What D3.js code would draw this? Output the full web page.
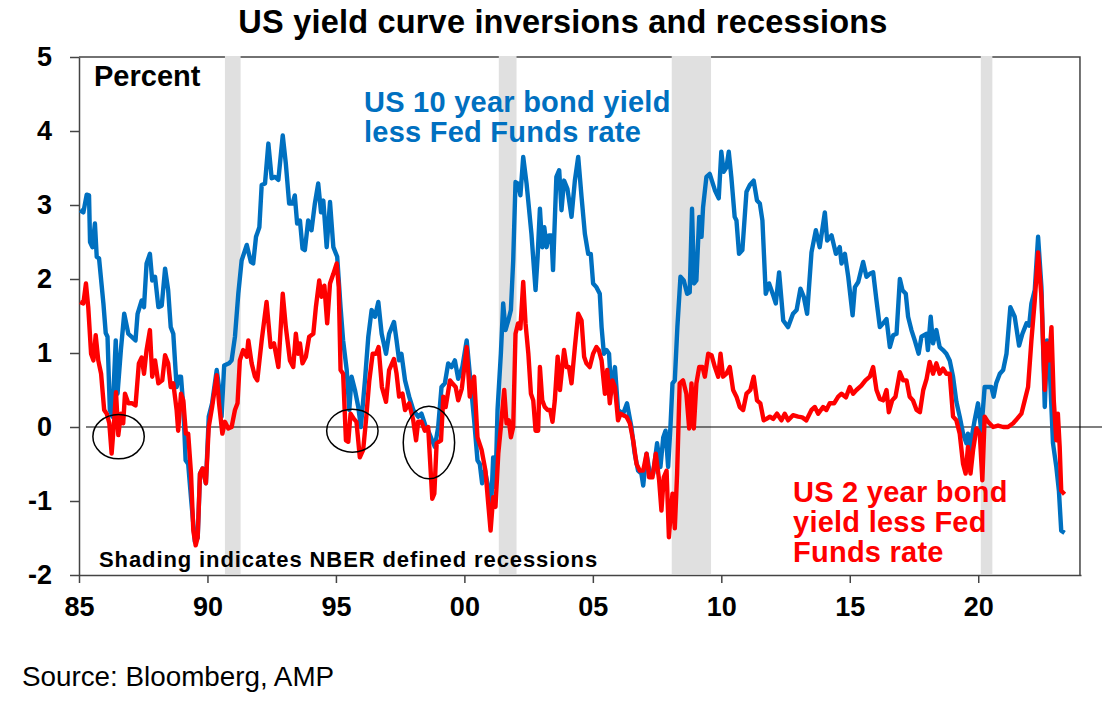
<!DOCTYPE html>
<html>
<head>
<meta charset="utf-8">
<script src="https://cdn.jsdelivr.net/npm/d3@7"></script>
<style>
  body { margin: 0; background: #fff; }
  text { font-family: "Liberation Sans", Arial, sans-serif; }
</style>
</head>
<body>
<div id="chart"></div>
<script>
// 1. Data (decimal year, percent)
const tenYearLessFF = [
  [1985.04,2.93],[1985.17,2.9],[1985.3,3.14],[1985.39,3.13],[1985.43,2.5],[1985.52,2.43],[1985.62,2.75],[1985.69,2.3],
  [1985.78,2.28],[1985.95,1.67],[1986.04,1.27],[1986.11,1.22],[1986.2,0.23],[1986.3,0.14],[1986.43,1.17],[1986.5,0.45],
  [1986.63,1.04],[1986.76,1.53],[1986.92,1.26],[1987.2,1.17],[1987.28,1.53],[1987.44,1.71],[1987.53,1.62],[1987.63,2.21],
  [1987.76,2.34],[1987.85,1.98],[1987.96,2.03],[1988.09,1.62],[1988.22,1.64],[1988.35,2.14],[1988.47,1.85],[1988.57,1.35],
  [1988.67,1.26],[1988.8,0.54],[1988.89,0.68],[1988.97,0.68],[1989.06,0.27],[1989.15,-0.45],[1989.25,-0.5],[1989.38,-1.04],
  [1989.51,-1.55],[1989.62,-1.5],[1989.71,-0.63],[1989.81,-0.56],[1989.94,-0.76],[1990.05,0.14],[1990.18,0.32],[1990.36,0.77],
  [1990.45,0.54],[1990.55,0.14],[1990.65,0.83],[1990.84,0.86],[1990.94,0.9],[1991.07,1.22],[1991.2,1.8],[1991.33,2.25],
  [1991.53,2.46],[1991.69,2.23],[1991.78,2.21],[1991.89,2.57],[1992.02,2.7],[1992.11,3.27],[1992.24,3.29],[1992.37,3.83],
  [1992.5,3.36],[1992.63,3.38],[1992.76,3.34],[1992.93,3.94],[1993.05,3.56],[1993.18,3.02],[1993.31,3.02],[1993.4,3.13],
  [1993.49,2.75],[1993.6,2.79],[1993.7,2.41],[1993.79,2.39],[1993.92,2.79],[1994.05,2.66],[1994.18,3.02],[1994.31,3.29],
  [1994.42,2.9],[1994.51,3.06],[1994.64,2.43],[1994.77,3.04],[1994.9,2.43],[1995.05,2.3],[1995.18,1.62],[1995.28,1.17],
  [1995.42,0.77],[1995.52,0.23],[1995.61,0.68],[1995.74,0.5],[1995.87,0.27],[1995.97,0.0],[1996.13,0.63],[1996.26,1.22],
  [1996.39,1.58],[1996.52,1.49],[1996.65,1.69],[1996.78,1.26],[1996.95,0.99],[1997.07,1.26],[1997.26,1.42],[1997.36,1.17],
  [1997.46,0.9],[1997.55,0.99],[1997.69,0.63],[1997.85,0.41],[1998.01,0.23],[1998.2,0.14],[1998.33,0.18],[1998.5,0.0],
  [1998.59,-0.05],[1998.85,-0.27],[1998.98,0.0],[1999.11,0.54],[1999.24,0.59],[1999.37,0.86],[1999.5,0.81],[1999.63,0.9],
  [1999.76,0.65],[1999.92,0.81],[2000.09,1.17],[2000.21,0.72],[2000.38,0.09],[2000.51,-0.45],[2000.6,-0.5],[2000.69,-0.76],
  [2000.8,-0.59],[2000.93,-0.81],[2001.03,-1.17],[2001.12,-0.41],[2001.21,-0.81],[2001.29,0.23],[2001.42,0.99],[2001.51,1.67],
  [2001.6,1.31],[2001.71,1.44],[2001.81,1.58],[2001.9,2.25],[2001.99,3.31],[2002.09,3.29],[2002.18,3.13],[2002.29,3.65],
  [2002.42,3.29],[2002.51,2.97],[2002.61,2.61],[2002.77,1.85],[2002.85,2.3],[2002.94,2.95],[2003.03,2.43],[2003.11,2.7],
  [2003.2,2.43],[2003.29,2.59],[2003.39,2.59],[2003.45,2.12],[2003.58,3.38],[2003.69,3.47],[2003.78,2.93],[2003.88,3.33],
  [2004.01,3.22],[2004.17,2.84],[2004.3,3.33],[2004.43,3.65],[2004.56,3.11],[2004.69,2.61],[2004.82,2.34],[2004.92,2.34],
  [2005.01,1.94],[2005.14,1.89],[2005.27,1.8],[2005.34,1.35],[2005.43,0.99],[2005.53,1.04],[2005.63,0.99],[2005.72,0.45],
  [2005.86,0.81],[2005.98,0.23],[2006.18,0.18],[2006.33,0.32],[2006.5,0],[2006.63,-0.36],[2006.76,-0.59],[2006.89,-0.63],
  [2006.96,-0.79],[2007.09,-0.36],[2007.22,-0.63],[2007.35,-0.63],[2007.5,-0.22],[2007.63,-0.54],[2007.74,-0.14],[2007.83,-0.05],
  [2007.93,-0.54],[2008.02,0],[2008.1,0.59],[2008.19,0.63],[2008.29,1.35],[2008.41,2.03],[2008.54,1.98],[2008.67,1.8],
  [2008.77,1.82],[2008.86,2.95],[2008.94,1.94],[2009.03,1.98],[2009.14,2.84],[2009.23,2.57],[2009.29,2.97],[2009.42,3.38],
  [2009.55,3.42],[2009.75,3.2],[2009.9,3.09],[2010.0,3.72],[2010.09,3.45],[2010.2,3.51],[2010.29,3.72],[2010.39,3.38],
  [2010.52,2.84],[2010.59,2.79],[2010.69,2.34],[2010.82,2.39],[2010.98,3.18],[2011.11,3.27],[2011.26,3.33],[2011.39,3.06],
  [2011.5,3.02],[2011.6,2.79],[2011.73,1.8],[2011.86,1.94],[2012.02,1.78],[2012.12,1.67],[2012.25,2.09],[2012.41,1.44],
  [2012.6,1.35],[2012.79,1.53],[2012.93,1.58],[2013.08,1.87],[2013.21,1.76],[2013.34,1.53],[2013.51,2.36],[2013.68,2.66],
  [2013.83,2.43],[2014.03,2.9],[2014.12,2.52],[2014.29,2.59],[2014.46,2.34],[2014.61,2.43],[2014.68,2.21],[2014.81,2.34],
  [2014.94,2.03],[2015.11,1.51],[2015.2,1.89],[2015.33,1.96],[2015.52,2.23],[2015.65,2.03],[2015.78,2.07],[2015.91,2.09],
  [2016.04,1.71],[2016.17,1.35],[2016.3,1.4],[2016.43,1.46],[2016.56,1.08],[2016.69,1.24],[2016.82,1.26],[2016.95,2.0],
  [2017.05,1.85],[2017.18,1.8],[2017.27,1.49],[2017.4,1.31],[2017.53,1.17],[2017.68,0.99],[2017.79,1.22],[2017.98,1.26],
  [2018.04,1.04],[2018.15,1.49],[2018.24,1.13],[2018.37,1.31],[2018.5,1.08],[2018.63,1.04],[2018.76,0.99],[2018.89,0.9],
  [2019.02,0.68],[2019.15,0.34],[2019.28,0.14],[2019.41,-0.09],[2019.54,-0.22],[2019.6,-0.09],[2019.67,-0.59],[2019.77,-0.09],
  [2019.86,0.09],[2019.99,0.32],[2020.12,-0.05],[2020.25,0.54],[2020.38,0.54],[2020.51,0.54],[2020.6,0.41],[2020.7,0.59],
  [2020.84,0.72],[2020.97,0.77],[2021.1,0.99],[2021.25,1.62],[2021.42,1.49],[2021.59,1.1],[2021.72,1.26],[2021.88,1.4],
  [2021.98,1.37],[2022.07,1.67],[2022.2,1.85],[2022.33,2.57],[2022.46,1.89],[2022.59,0.27],[2022.68,1.17],[2022.78,0.81],
  [2022.91,-0.22],[2023.04,-0.54],[2023.14,-0.86],[2023.23,-1.4],[2023.36,-1.43]
];

const twoYearLessFF = [
  [1985.04,1.69],[1985.17,1.67],[1985.27,1.94],[1985.36,1.62],[1985.47,0.99],[1985.56,0.9],[1985.65,1.24],[1985.75,0.9],
  [1985.86,0.72],[1985.98,0.23],[1986.08,0.18],[1986.18,0.05],[1986.27,-0.36],[1986.37,0.09],[1986.44,0.47],[1986.53,-0.11],
  [1986.63,0.18],[1986.72,0.05],[1986.79,0.45],[1986.92,0.32],[1987.07,0.32],[1987.2,0.29],[1987.33,0.86],[1987.44,0.94],
  [1987.53,0.72],[1987.63,1.04],[1987.76,1.31],[1987.85,0.68],[1987.96,0.9],[1988.09,0.59],[1988.24,0.63],[1988.35,0.97],
  [1988.47,0.86],[1988.57,0.54],[1988.67,0.59],[1988.8,0.23],[1988.86,-0.05],[1988.97,0.45],[1989.06,0.36],[1989.16,-0.09],
  [1989.25,-0.09],[1989.36,-0.63],[1989.45,-1.4],[1989.54,-1.6],[1989.62,-1.49],[1989.71,-0.63],[1989.81,-0.56],[1989.94,-0.76],
  [1990.05,0],[1990.18,0.27],[1990.36,0.7],[1990.45,0.32],[1990.58,-0.09],[1990.68,0.07],[1990.81,-0.02],[1990.94,0],
  [1991.07,0.23],[1991.17,0.32],[1991.26,0.9],[1991.39,1.04],[1991.53,0.95],[1991.59,1.17],[1991.72,0.86],[1991.85,0.68],
  [1991.94,0.63],[1992.11,1.17],[1992.3,1.69],[1992.46,1.08],[1992.59,1.13],[1992.76,0.81],[1992.93,1.8],[1993.05,1.35],
  [1993.21,0.9],[1993.34,0.81],[1993.44,1.26],[1993.53,0.99],[1993.6,1.13],[1993.7,0.86],[1993.83,0.95],[1993.96,1.22],
  [1994.12,1.26],[1994.22,1.62],[1994.35,1.98],[1994.44,1.76],[1994.55,1.91],[1994.66,1.4],[1994.77,1.94],[1994.9,2.07],
  [1995.03,2.21],[1995.11,1.89],[1995.18,0.77],[1995.28,0.72],[1995.39,-0.18],[1995.48,-0.2],[1995.57,0.18],[1995.7,0.11],
  [1995.8,0.07],[1995.93,-0.41],[1996.06,-0.31],[1996.17,0.09],[1996.3,0.63],[1996.43,0.99],[1996.56,0.99],[1996.66,1.08],
  [1996.79,0.54],[1996.95,0.34],[1997.07,0.77],[1997.26,0.92],[1997.36,0.72],[1997.46,0.41],[1997.59,0.45],[1997.69,0.23],
  [1997.85,0.32],[1998.01,0.09],[1998.12,-0.18],[1998.2,0.07],[1998.33,0.07],[1998.46,-0.05],[1998.59,0],[1998.75,-0.97],
  [1998.83,-0.9],[1998.92,-0.22],[1999.09,-0.18],[1999.18,0.41],[1999.27,0.27],[1999.44,0.63],[1999.53,0.59],[1999.66,0.54],
  [1999.76,0.36],[1999.9,0.52],[2000.09,1.08],[2000.21,0.41],[2000.38,0.68],[2000.51,-0.14],[2000.67,-0.31],[2000.82,-0.59],
  [2000.93,-1.04],[2001.02,-1.4],[2001.12,-0.95],[2001.21,-1.08],[2001.32,-0.36],[2001.42,0],[2001.55,0.5],[2001.64,0.05],
  [2001.73,0.09],[2001.81,-0.14],[2001.9,0],[2001.99,1.26],[2002.09,1.4],[2002.18,1.33],[2002.29,1.96],[2002.38,1.4],
  [2002.49,0.99],[2002.59,0.45],[2002.68,0.36],[2002.77,-0.05],[2002.87,-0.05],[2002.94,0.81],[2003.03,0.36],[2003.13,0.27],
  [2003.24,0.23],[2003.34,0.23],[2003.43,0.07],[2003.52,0.36],[2003.63,0.95],[2003.72,0.5],[2003.81,0.81],[2003.88,1.04],
  [2003.98,0.81],[2004.07,0.81],[2004.17,0.59],[2004.3,1.08],[2004.43,1.53],[2004.56,1.44],[2004.66,0.95],[2004.75,0.86],
  [2004.88,0.81],[2005.01,0.99],[2005.14,1.08],[2005.23,1.04],[2005.34,0.9],[2005.47,0.45],[2005.56,0.77],[2005.66,0.32],
  [2005.76,0.63],[2005.86,0.54],[2005.98,0.09],[2006.08,0.18],[2006.18,0.16],[2006.31,0.14],[2006.44,0.05],[2006.57,-0.18],
  [2006.7,-0.5],[2006.83,-0.59],[2006.96,-0.59],[2007.09,-0.36],[2007.19,-0.68],[2007.32,-0.68],[2007.45,-0.36],[2007.58,-0.72],
  [2007.67,-1.13],[2007.76,-0.68],[2007.87,-0.59],[2007.96,-1.49],[2008.03,-1.17],[2008.1,-0.9],[2008.19,-1.37],[2008.28,-0.63],
  [2008.38,0.59],[2008.51,0.63],[2008.64,0.45],[2008.75,-0.02],[2008.84,0.59],[2008.93,-0.02],[2009.03,0.59],[2009.14,0.81],
  [2009.27,0.81],[2009.36,0.68],[2009.49,0.99],[2009.62,0.97],[2009.75,0.81],[2009.88,0.68],[2009.97,0.99],[2010.07,0.68],
  [2010.2,0.72],[2010.33,0.81],[2010.46,0.5],[2010.59,0.41],[2010.72,0.27],[2010.85,0.23],[2010.98,0.45],[2011.13,0.5],
  [2011.26,0.68],[2011.39,0.36],[2011.52,0.32],[2011.65,0.09],[2011.76,0.11],[2011.89,0.14],[2012.02,0.11],[2012.17,0.18],
  [2012.34,0.09],[2012.47,0.18],[2012.6,0.09],[2012.79,0.16],[2012.99,0.14],[2013.15,0.13],[2013.31,0.09],[2013.51,0.23],
  [2013.64,0.27],[2013.77,0.18],[2013.96,0.27],[2014.09,0.23],[2014.22,0.32],[2014.39,0.32],[2014.55,0.41],[2014.68,0.45],
  [2014.85,0.4],[2015.0,0.54],[2015.13,0.45],[2015.26,0.5],[2015.45,0.56],[2015.61,0.63],[2015.78,0.68],[2015.91,0.81],
  [2016.04,0.5],[2016.17,0.38],[2016.3,0.36],[2016.43,0.5],[2016.52,0.2],[2016.65,0.36],[2016.78,0.41],[2016.95,0.74],
  [2017.08,0.63],[2017.21,0.63],[2017.33,0.41],[2017.46,0.36],[2017.6,0.23],[2017.73,0.2],[2017.86,0.5],[2017.99,0.65],
  [2018.11,0.88],[2018.24,0.72],[2018.37,0.86],[2018.5,0.72],[2018.63,0.79],[2018.76,0.72],[2018.89,0.72],[2019.02,0.14],
  [2019.15,0.09],[2019.28,-0.09],[2019.41,-0.5],[2019.51,-0.63],[2019.6,-0.27],[2019.7,-0.63],[2019.8,-0.31],[2019.93,-0.02],
  [2020.06,-0.09],[2020.16,-0.72],[2020.25,0.14],[2020.38,0.07],[2020.58,0],[2020.77,0.02],[2020.97,0],[2021.16,0],
  [2021.36,0.05],[2021.51,0.11],[2021.68,0.18],[2021.81,0.36],[2021.94,0.54],[2022.07,1.17],[2022.2,1.71],[2022.33,2.36],
  [2022.46,1.76],[2022.59,0.5],[2022.68,1.13],[2022.76,0.9],[2022.85,1.35],[2022.94,0.36],[2023.04,-0.18],[2023.1,0.18],
  [2023.17,-0.27],[2023.23,-0.86],[2023.36,-0.91]
];

// NBER recessions (start, end)
const recessions = [[1990.68, 1991.29], [2001.34, 2002.03], [2008.07, 2009.6], [2020.1, 2020.55]];

// circled inversions: centre year, centre value, half-width (years), half-height (percent)
const inversionCircles = [[1986.54, -0.13, 1.0, 0.3], [1995.64, -0.05, 1.0, 0.29], [1998.62, -0.21, 1.0, 0.49]];

const xTicks = [1985, 1990, 1995, 2000, 2005, 2010, 2015, 2020];
const yTicks = [-2, -1, 0, 1, 2, 3, 4, 5];

// 2. Setup dimensions
const width = 1112, height = 715;
const plotLeft = 79, plotRight = 1081, plotTop = 57, plotBottom = 575;

const svg = d3.select("#chart").append("svg")
    .attr("width", width)
    .attr("height", height);

const x = d3.scaleLinear().domain([1985, 2024]).range([plotLeft, plotRight]);
const y = d3.scaleLinear().domain([-2, 5]).range([plotBottom, plotTop]);

// 3. Frame (top and right border)
svg.append("path")
    .attr("d", `M${plotLeft},${plotTop}H${x(2023.96)}V${plotBottom}`)
    .attr("fill", "none")
    .attr("stroke", "#444")
    .attr("stroke-width", 1.5);

// 4. Recession shading
svg.append("g").selectAll("rect")
    .data(recessions)
    .join("rect")
    .attr("x", d => x(d[0]))
    .attr("width", d => x(d[1]) - x(d[0]))
    .attr("y", plotTop - 1)
    .attr("height", plotBottom - plotTop)
    .attr("fill", "#e0e0e0");

// 5. Axes (hyphen minus, as in the original)
const yAxis = svg.append("g")
    .attr("transform", `translate(${plotLeft},0)`)
    .call(d3.axisLeft(y).tickValues(yTicks).tickSize(9).tickSizeOuter(0).tickPadding(18).tickFormat(d => String(d)));

const xAxis = svg.append("g")
    .attr("transform", `translate(0,${plotBottom})`)
    .call(d3.axisBottom(x).tickValues(xTicks).tickSize(8).tickSizeOuter(0).tickPadding(14)
        .tickFormat(d => String(d).slice(2)));

[xAxis, yAxis].forEach(ax => {
    ax.select(".domain").attr("stroke", "#444").attr("stroke-width", 1.5);
    ax.selectAll(".tick line").attr("stroke", "#444").attr("stroke-width", 1.5);
    ax.selectAll(".tick text")
        .attr("fill", "#000")
        .style("font-size", "27px")
        .style("font-weight", "bold")
        .style("font-family", "'Liberation Sans', Arial, sans-serif");
});

// zero line runs past the right border
svg.append("line")
    .attr("x1", plotLeft + 7).attr("x2", 1102)
    .attr("y1", y(0)).attr("y2", y(0))
    .attr("stroke", "#000")
    .attr("stroke-width", 1.2);

// 6. Lines
const line = d3.line().x(d => x(d[0])).y(d => y(d[1]));

svg.append("path")
    .datum(tenYearLessFF)
    .attr("d", line)
    .attr("fill", "none")
    .attr("stroke", "#0070c0")
    .attr("stroke-width", 4.4)
    .attr("stroke-linejoin", "round");

svg.append("path")
    .datum(twoYearLessFF)
    .attr("d", line)
    .attr("fill", "none")
    .attr("stroke", "#ff0000")
    .attr("stroke-width", 4.4)
    .attr("stroke-linejoin", "round");

// 7. Circled inversions
svg.append("g").selectAll("ellipse")
    .data(inversionCircles)
    .join("ellipse")
    .attr("cx", d => x(d[0]))
    .attr("cy", d => y(d[1]))
    .attr("rx", d => x(1985 + d[2]) - x(1985))
    .attr("ry", d => y(0) - y(d[3]))
    .attr("fill", "none")
    .attr("stroke", "#000")
    .attr("stroke-width", 1.5);

// 8. Text
svg.append("text")
    .attr("x", 563).attr("y", 33)
    .attr("text-anchor", "middle")
    .style("font-size", "32.5px").style("font-weight", "bold").style("letter-spacing", "0.2px")
    .text("US yield curve inversions and recessions");

svg.append("text")
    .attr("x", 94).attr("y", 86)
    .style("font-size", "29px").style("font-weight", "bold")
    .text("Percent");

const blueLabel = ["US 10 year bond yield", "less Fed Funds rate"];
svg.append("g").selectAll("text")
    .data(blueLabel)
    .join("text")
    .attr("x", 364)
    .attr("y", (d, i) => 112 + i * 30)
    .attr("fill", "#0070c0")
    .style("font-size", "29px").style("font-weight", "bold").style("letter-spacing", "0.25px")
    .text(d => d);

const redLabel = ["US 2 year bond", "yield less Fed", "Funds rate"];
svg.append("g").selectAll("text")
    .data(redLabel)
    .join("text")
    .attr("x", 793)
    .attr("y", (d, i) => 502 + i * 30)
    .attr("fill", "#ff0000")
    .style("font-size", "29px").style("font-weight", "bold").style("letter-spacing", "0.25px")
    .text(d => d);

svg.append("text")
    .attr("x", 99).attr("y", 567)
    .style("font-size", "22px").style("font-weight", "bold").style("letter-spacing", "0.9px")
    .text("Shading indicates NBER defined recessions");

svg.append("text")
    .attr("x", 22).attr("y", 686)
    .style("font-size", "27.8px")
    .text("Source: Bloomberg, AMP");
</script>
</body>
</html>
